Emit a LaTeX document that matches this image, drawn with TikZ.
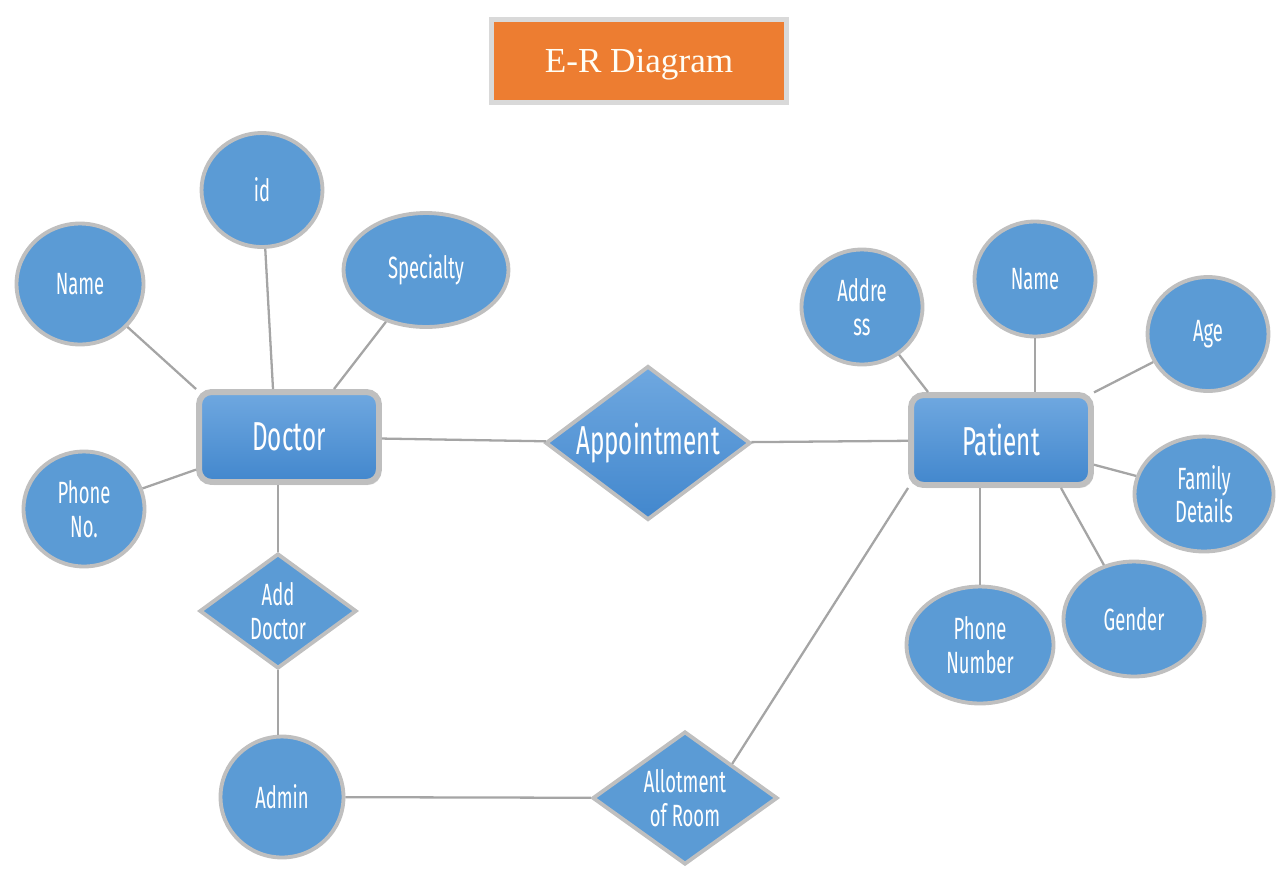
\documentclass[tikz,border=0pt]{standalone}
\usepackage{fontspec}
\setmainfont{Liberation Serif}
\newfontfamily\agency[FakeStretch=0.6]{Fira Sans}
\usetikzlibrary{shapes.geometric, shadows}

\definecolor{erblue}{HTML}{5B9BD5}
\definecolor{ertop}{HTML}{6FA8E0}
\definecolor{erbot}{HTML}{4287CD}
\definecolor{erborder}{HTML}{BFBFBF}
\definecolor{erline}{HTML}{A5A5A5}
\definecolor{titleorange}{HTML}{ED7D31}
\definecolor{titleborder}{HTML}{D9D9D9}

\begin{document}
\begin{tikzpicture}[x=0.02cm, y=-0.02cm,
    attr/.style={ellipse, fill=erblue, draw=erborder, line width=2.2pt, inner sep=0pt,
        text=white, align=center, font=\agency\fontsize{17.5}{19}\selectfont},
    entity/.style={rectangle, rounded corners=0.25cm, top color=ertop, bottom color=erbot,
        draw=erborder, line width=3.4pt, minimum width=3.6cm, minimum height=1.8cm,
        text=white, font=\agency\fontsize{23}{26}\selectfont,
        drop shadow={opacity=0.25, shadow xshift=0.04cm, shadow yshift=-0.06cm}},
    rel/.style={diamond, shape aspect=1.35, fill=erblue, draw=erborder, line width=2.2pt, inner sep=0pt,
        text=white, align=center, font=\agency\fontsize{17.5}{19}\selectfont},
    link/.style={draw=erline, line width=1.3pt}]
\useasboundingbox (0,0) rectangle (1280,876);

% title
\node (title) [fill=titleorange, draw=titleborder, line width=2.4pt, minimum width=5.9cm,
    minimum height=1.66cm, text height=0.45cm, text depth=0cm, text=white!96!yellow,
    font=\fontsize{20}{24}\selectfont] at (639,61) {E-R Diagram};

% entities and relations
\node (doctor) [entity] at (289,437) {Doctor};
\node (patient) [entity] at (1001,440) {Patient};
\node (appt) [rel, top color=ertop, bottom color=erbot, minimum width=4.1cm, minimum height=3.08cm,
    font=\agency\fontsize{23}{26}\selectfont] at (648,443) {Appointment};
\node (adddoc) [rel, minimum width=3.14cm, minimum height=2.3cm] at (278,611) {Add\\Doctor};
\node (allot) [rel, minimum width=3.7cm, minimum height=2.66cm] at (685,798) {Allotment\\of Room};

% doctor attributes
\node (did) [attr, minimum width=2.42cm, minimum height=2.28cm] at (262,190) {id};
\node (dname) [attr, minimum width=2.54cm, minimum height=2.42cm] at (80,284) {Name};
\node (dspec) [attr, minimum width=3.3cm, minimum height=2.28cm] at (426,270) {Specialty};
\node (dphone) [attr, minimum width=2.42cm, minimum height=2.3cm] at (84,509) {Phone\\No.};
\node (admin) [attr, minimum width=2.46cm, minimum height=2.42cm] at (282,797) {Admin};

% patient attributes
\node (paddr) [attr, minimum width=2.42cm, minimum height=2.3cm] at (862,307) {Addre\\ss};
\node (pname) [attr, minimum width=2.42cm, minimum height=2.3cm] at (1035,279) {Name};
\node (page) [attr, minimum width=2.42cm, minimum height=2.28cm] at (1208,334) {Age};
\node (pfamily) [attr, minimum width=2.78cm, minimum height=2.3cm] at (1204,494) {Family\\Details};
\node (pgender) [attr, minimum width=2.82cm, minimum height=2.3cm] at (1134,619) {Gender};
\node (pphone) [attr, minimum width=2.94cm, minimum height=2.34cm] at (980,645) {Phone\\Number};

% connectors
\path [link]
    (dname) edge (doctor.north west)
    (did) edge ([xshift=-0.32cm]doctor.north)
    (dspec) edge ([xshift=0.9cm]doctor.north)
    (dphone) edge (doctor)
    (doctor) edge (appt)
    (appt) edge (patient)
    (doctor.south -| adddoc.north) edge (adddoc)
    (adddoc.south) edge (adddoc.south |- admin.north)
    (admin) edge (allot)
    (allot.north east) edge (patient.south west)
    (paddr) edge ([xshift=0.4cm]patient.north west)
    (pname.south) edge (pname.south |- patient.north)
    (page) edge (patient)
    (pfamily) edge (patient)
    (pgender) edge ([xshift=1.2cm]patient.south)
    (pphone.north) edge (pphone.north |- patient.south);
\end{tikzpicture}
\end{document}
